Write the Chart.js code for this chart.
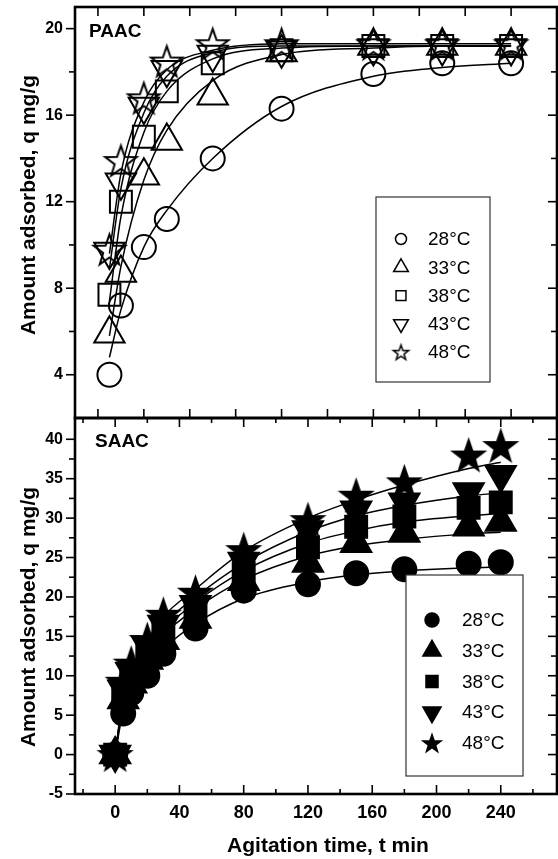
<!DOCTYPE html>
<html>
<head>
<meta charset="utf-8">
<script src="https://cdn.jsdelivr.net/npm/chart.js@4.4.1/dist/chart.umd.min.js"></script>
<style>
  html, body { margin: 0; padding: 0; background: #fff; }
  #wrap { position: relative; width: 558px; height: 859px; }
  #top { position: absolute; left: 0; top: 0; width: 558px; height: 420px; }
  #bot { position: absolute; left: 0; top: 416px; width: 558px; height: 443px; }
</style>
</head>
<body>
<div id="wrap">
  <canvas id="top" width="558" height="420"></canvas>
  <canvas id="bot" width="558" height="443"></canvas>
</div>
<script>
const FONT = "'Liberation Sans', Arial, Helvetica, sans-serif";
Chart.defaults.font.family = FONT;
Chart.defaults.color = '#000';

const temps = ['28°C', '33°C', '38°C', '43°C', '48°C'];

// PAAC (top panel)
const paacTime = [5, 10, 20, 30, 50, 80, 120, 150, 180];
const paac28 = [4.0, 7.2, 9.9, 11.2, 14.0, 16.3, 17.9, 18.4, 18.4];
const paac33 = [5.9, 8.7, 13.2, 14.8, 16.9, 18.9, 19.2, 19.2, 19.2];
const paac38 = [7.7, 12.0, 15.0, 17.1, 18.4, 19.0, 19.2, 19.2, 19.2];
const paac43 = [9.7, 12.9, 16.4, 18.1, 18.8, 19.0, 19.1, 19.1, 19.1];
const paac48 = [9.8, 13.9, 16.8, 18.5, 19.3, 19.3, 19.3, 19.3, 19.3];
const paacFit28 = [4.8, 7.0, 9.9, 11.6, 14.0, 16.4, 17.8, 18.2, 18.4];
const paacFit33 = [5.8, 9.0, 13.0, 15.3, 17.6, 18.8, 19.1, 19.2, 19.2];
const paacFit38 = [7.4, 11.3, 15.2, 17.1, 18.6, 19.1, 19.2, 19.2, 19.2];
const paacFit43 = [8.9, 12.6, 16.1, 17.8, 18.9, 19.2, 19.2, 19.2, 19.2];
const paacFit48 = [9.6, 13.3, 16.6, 18.1, 19.0, 19.3, 19.3, 19.3, 19.3];
const paacXTicks = [0, 20, 40, 60, 80, 100, 120, 140, 160, 180];
const paacYTicks = [4, 8, 12, 16, 20];
const paacYMinor = [6, 10, 14, 18];

// SAAC (bottom panel)
const saacTime = [0, 5, 10, 20, 30, 50, 80, 120, 150, 180, 220, 240];
const saac28 = [0, 5.2, 7.8, 10.0, 12.8, 16.0, 20.8, 21.6, 23.0, 23.5, 24.2, 24.4];
const saac33 = [0, 7.0, 9.0, 12.0, 14.5, 17.2, 22.0, 24.3, 26.8, 28.1, 28.9, 29.5];
const saac38 = [0, 7.8, 9.8, 13.0, 15.5, 18.0, 23.0, 26.3, 28.9, 30.2, 31.3, 32.0];
const saac43 = [0, 8.3, 10.5, 13.8, 16.5, 19.0, 24.5, 28.5, 31.0, 32.0, 33.3, 35.5];
const saac48 = [0, 9.3, 11.6, 14.6, 17.8, 20.6, 26.0, 29.8, 32.9, 34.6, 38.0, 39.2];
const saacFit28 = [0, 5.6, 8.2, 11.3, 13.4, 16.6, 19.8, 21.9, 22.8, 23.3, 23.7, 23.8];
const saacFit33 = [0, 6.5, 9.2, 12.7, 15.2, 18.5, 22.2, 25.2, 26.5, 27.3, 28.0, 28.2];
const saacFit38 = [0, 6.8, 9.6, 13.2, 15.8, 19.3, 23.3, 26.8, 28.4, 29.5, 30.3, 30.6];
const saacFit43 = [0, 7.0, 10.0, 13.8, 16.5, 20.0, 24.3, 28.3, 30.3, 31.6, 32.8, 33.2];
const saacFit48 = [0, 7.5, 10.5, 14.5, 17.5, 21.0, 25.8, 30.0, 32.3, 34.2, 36.3, 37.1];
const saacXTicks = [0, 40, 80, 120, 160, 200, 240];
const saacXMinor = [-20, 20, 60, 100, 140, 180, 220, 260];
const saacYTicks = [-5, 0, 5, 10, 15, 20, 25, 30, 35, 40];
const saacYMinor = [-2.5, 2.5, 7.5, 12.5, 17.5, 22.5, 27.5, 32.5, 37.5];

// five-pointed star as an image point style
function starImage(R, filled, lw) {
  const pad = lw + 1;
  const c = document.createElement('canvas');
  c.width = c.height = Math.ceil(2 * R + 2 * pad);
  const g = c.getContext('2d');
  const cx = c.width / 2, cy = c.height / 2 + R * 0.1;
  g.beginPath();
  for (let i = 0; i < 10; i++) {
    const rr = i % 2 ? R * 0.4 : R;
    const a = -Math.PI / 2 + i * Math.PI / 5;
    g.lineTo(cx + rr * Math.cos(a), cy + rr * Math.sin(a));
  }
  g.closePath();
  if (filled) { g.fillStyle = '#000'; g.fill(); }
  g.lineWidth = lw;
  g.strokeStyle = '#000';
  g.stroke();
  return c;
}

const NONE = 'rgba(0,0,0,0)';

function markers(filled, big) {
  const fill = filled ? '#000' : NONE;
  const lw = big ? 2 : 1.5;
  return [
    { style: 'circle', r: big ? 12 : (filled ? 7 : 5.5), rot: 0, fill, lw },
    { style: 'triangle', r: big ? 17.5 : (filled ? 10.5 : 8.5), rot: 0, fill, lw },
    { style: 'rect', r: big ? 15.5 : (filled ? 8.5 : 7), rot: 0, fill, lw },
    { style: 'triangle', r: big ? 17.5 : (filled ? 10.5 : 8.5), rot: 180, fill, lw },
    { style: starImage(big ? 16.5 : (filled ? 9.5 : 8), filled, lw), r: 10, rot: 0, fill, lw }
  ];
}

function pointSet(label, xs, ys, m) {
  return {
    label,
    data: xs.map((t, i) => ({ x: t, y: ys[i] })),
    showLine: false,
    pointStyle: m.style,
    pointRadius: m.r,
    pointRotation: m.rot,
    pointBorderWidth: m.lw,
    pointBorderColor: '#000',
    pointBackgroundColor: m.fill,
    clip: false,
    order: 0
  };
}

function fitSet(xs, ys) {
  return {
    data: xs.map((t, i) => ({ x: t, y: ys[i] })),
    showLine: true,
    borderColor: '#000',
    borderWidth: 1.5,
    pointRadius: 0,
    cubicInterpolationMode: 'monotone',
    fill: false,
    order: 1
  };
}

// no label overflow padding, so the plot area sits exactly where the layout says
function noPad(s) {
  s.paddingTop = 0; s.paddingBottom = 0; s.paddingLeft = 0; s.paddingRight = 0;
}

// axes frame, inward/outward ticks, titles and legend
const framePlugin = {
  id: 'frame',
  afterDraw(chart, args, o) {
    const { ctx, chartArea: a, scales: { x, y } } = chart;
    ctx.save();
    ctx.strokeStyle = '#000';
    const line = (x1, y1, x2, y2) => { ctx.beginPath(); ctx.moveTo(x1, y1); ctx.lineTo(x2, y2); ctx.stroke(); };
    ctx.lineWidth = 1.6;
    const xt = (v, len) => { const px = x.getPixelForValue(v); line(px, a.bottom, px, a.bottom - len); line(px, a.top, px, a.top + len); };
    const yt = (v, len) => { const py = y.getPixelForValue(v); line(a.left - len, py, a.left, py); line(a.right - len, py, a.right, py); };
    o.xMajor.forEach(v => xt(v, 9));
    (o.xMinor || []).forEach(v => xt(v, 5));
    o.yMajor.forEach(v => yt(v, 9));
    (o.yMinor || []).forEach(v => yt(v, 6));
    ctx.lineWidth = 2.6;
    ctx.strokeRect(a.left, a.top, a.right - a.left, a.bottom - a.top);

    ctx.fillStyle = '#000';
    // panel label
    ctx.font = 'bold 19px ' + FONT;
    ctx.textAlign = 'left';
    ctx.textBaseline = 'alphabetic';
    ctx.fillText(o.label.text, o.label.x, o.label.y);
    // y title
    ctx.font = 'bold 21px ' + FONT;
    ctx.textAlign = 'center';
    ctx.textBaseline = 'middle';
    ctx.save();
    ctx.translate(o.yTitle.x, o.yTitle.y);
    ctx.rotate(-Math.PI / 2);
    ctx.fillText(o.yTitle.text, 0, 0);
    ctx.restore();
    if (o.xTitle) ctx.fillText(o.xTitle.text, o.xTitle.x, o.xTitle.y);

    // legend
    const L = o.legend;
    const [l, t, r, b] = L.box;
    ctx.fillStyle = '#fff';
    ctx.fillRect(l, t, r - l, b - t);
    ctx.strokeStyle = '#333';
    ctx.lineWidth = 1.2;
    ctx.strokeRect(l, t, r - l, b - t);
    L.items.forEach((m, i) => {
      const yy = L.y0 + i * L.dy;
      ctx.fillStyle = m.fill;
      ctx.strokeStyle = '#000';
      ctx.lineWidth = m.lw;
      Chart.helpers.drawPoint(ctx, { pointStyle: m.style, radius: m.r, rotation: m.rot, borderWidth: m.lw }, L.symX, yy);
      ctx.fillStyle = '#000';
      ctx.font = '19px ' + FONT;
      ctx.textAlign = 'left';
      ctx.textBaseline = 'middle';
      ctx.fillText(temps[i], L.textX, yy + 1);
    });
    ctx.restore();
  }
};

const bigHollow = markers(false, true);
const bigFilled = markers(true, true);

const paacSeries = [paac28, paac33, paac38, paac43, paac48];
const paacFits = [paacFit28, paacFit33, paacFit38, paacFit43, paacFit48];
const saacSeries = [saac28, saac33, saac38, saac43, saac48];
const saacFits = [saacFit28, saacFit33, saacFit38, saacFit43, saacFit48];

new Chart(document.getElementById('top'), {
  type: 'scatter',
  data: {
    datasets: [
      ...paacSeries.map((s, i) => pointSet(temps[i], paacTime, s, bigHollow[i])),
      ...paacFits.map(f => fitSet(paacTime, f))
    ]
  },
  options: {
    responsive: false,
    animation: false,
    events: [],
    layout: { autoPadding: false, padding: { left: 0, right: 1, top: 7, bottom: 2 } },
    plugins: {
      legend: { display: false },
      tooltip: { enabled: false },
      frame: {
        xMajor: paacXTicks,
        yMajor: paacYTicks,
        yMinor: paacYMinor,
        label: { text: 'PAAC', x: 89, y: 37 },
        yTitle: { text: 'Amount adsorbed, q mg/g', x: 29, y: 205 },
        legend: {
          box: [376, 197, 490, 382], symX: 401, textX: 428, y0: 239, dy: 28.3,
          items: markers(false, false)
        }
      }
    },
    scales: {
      x: { type: 'linear', min: -10, max: 200, display: false, afterFit: s => { noPad(s); s.height = 0; } },
      y: {
        type: 'linear', min: 2, max: 21,
        grid: { display: false, drawTicks: false },
        border: { display: false },
        afterBuildTicks: s => { s.ticks = paacYTicks.map(v => ({ value: v })); },
        afterFit: s => { noPad(s); s.width = 75; },
        ticks: { font: { size: 16, weight: 'bold' }, padding: 12, autoSkip: false }
      }
    }
  },
  plugins: [framePlugin]
});

new Chart(document.getElementById('bot'), {
  type: 'scatter',
  data: {
    datasets: [
      ...saacSeries.map((s, i) => pointSet(temps[i], saacTime, s, bigFilled[i])),
      ...saacFits.map(f => fitSet(saacTime, f))
    ]
  },
  options: {
    responsive: false,
    animation: false,
    events: [],
    layout: { autoPadding: false, padding: { left: 0, right: 1, top: 2, bottom: 0 } },
    plugins: {
      legend: { display: false },
      tooltip: { enabled: false },
      frame: {
        xMajor: saacXTicks,
        xMinor: saacXMinor,
        yMajor: saacYTicks,
        yMinor: saacYMinor,
        label: { text: 'SAAC', x: 95, y: 31 },
        yTitle: { text: 'Amount adsorbed, q mg/g', x: 29, y: 201 },
        xTitle: { text: 'Agitation time, t min', x: 328, y: 430 },
        legend: {
          box: [406, 159, 523, 360], symX: 432, textX: 462, y0: 204, dy: 30.75,
          items: markers(true, false)
        }
      }
    },
    scales: {
      x: {
        type: 'linear', min: -25, max: 275,
        grid: { display: false, drawTicks: false },
        border: { display: false },
        afterBuildTicks: s => { s.ticks = saacXTicks.map(v => ({ value: v })); },
        afterFit: s => { noPad(s); s.height = 65; },
        ticks: { font: { size: 18, weight: 'bold' }, padding: 8, autoSkip: false, maxRotation: 0 }
      },
      y: {
        type: 'linear', min: -5, max: 42.7,
        grid: { display: false, drawTicks: false },
        border: { display: false },
        afterBuildTicks: s => { s.ticks = saacYTicks.map(v => ({ value: v })); },
        afterFit: s => { noPad(s); s.width = 75; },
        ticks: { font: { size: 16, weight: 'bold' }, padding: 12, autoSkip: false }
      }
    }
  },
  plugins: [framePlugin]
});
</script>
</body>
</html>
